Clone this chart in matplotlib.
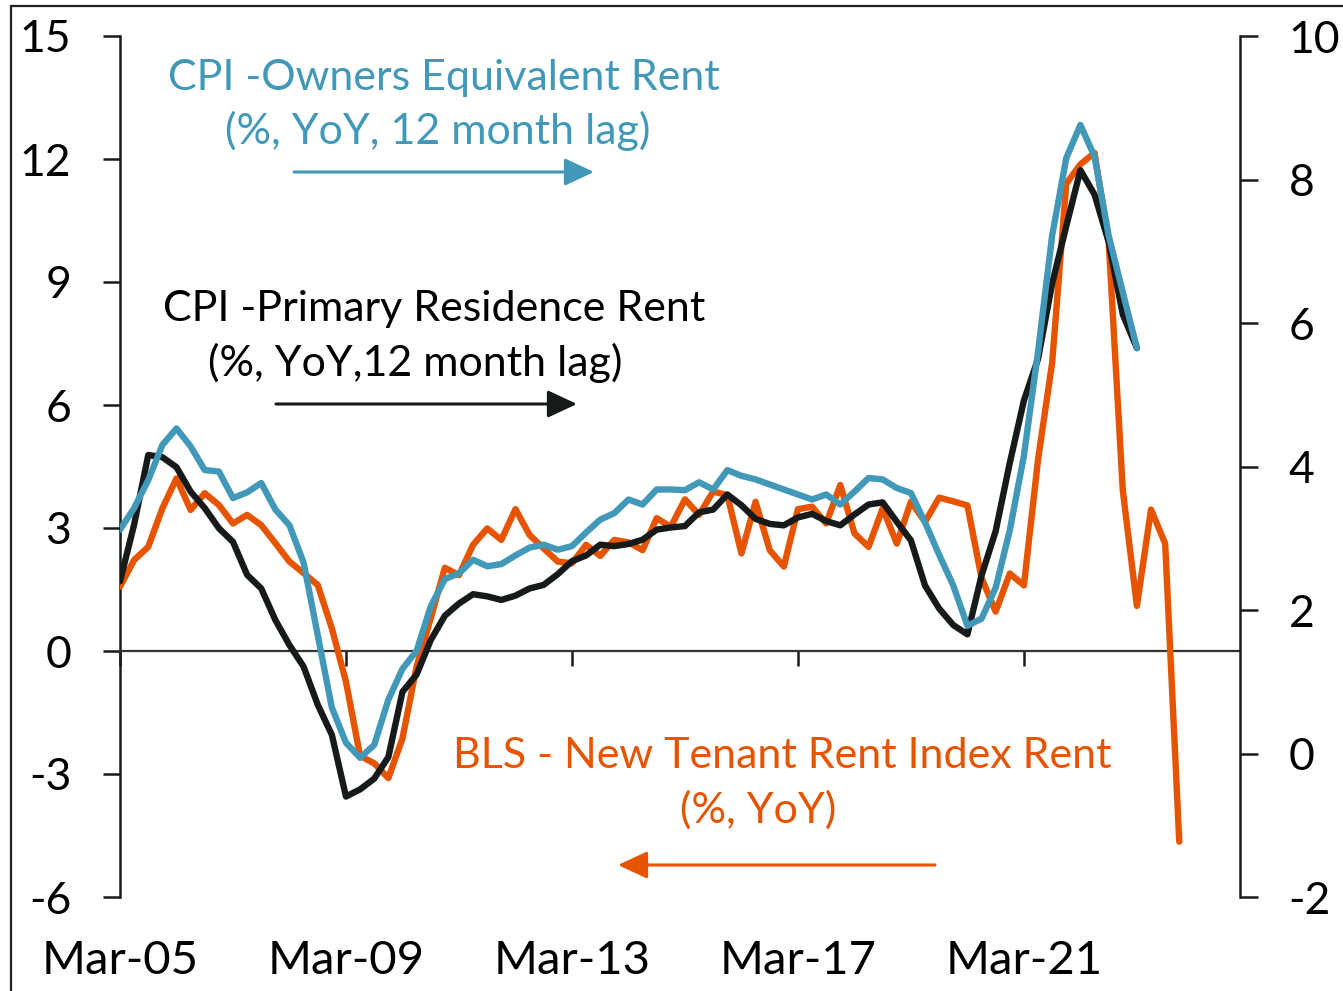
import numpy as np
import pandas as pd
import matplotlib
matplotlib.use("Agg")
import matplotlib.pyplot as plt
from matplotlib.patches import Rectangle

plt.rcParams['font.family'] = ['Lato', 'DejaVu Sans']

# ---------------- data ----------------
quarters = pd.period_range('2005Q1', '2023Q4', freq='Q').strftime('%b-%y').tolist()

# BLS New Tenant Rent Index (% YoY) - left axis
new_tenant = [1.57, 2.22, 2.54, 3.48, 4.21, 3.44, 3.85, 3.56, 3.11, 3.32,
              3.07, 2.63, 2.18, 1.90, 1.61, 0.55, -0.75, -2.56, -2.74, -3.10,
              -2.13, -0.38, 0.80, 2.03, 1.85, 2.59, 2.99, 2.71, 3.46, 2.83,
              2.50, 2.18, 2.14, 2.59, 2.32, 2.71, 2.65, 2.46, 3.24, 3.03,
              3.70, 3.32, 3.89, 3.80, 2.38, 3.64, 2.46, 2.06, 3.46, 3.52,
              3.11, 4.05, 2.87, 2.54, 3.48, 2.62, 3.64, 3.15, 3.74, 3.65,
              3.55, 1.78, 0.96, 1.89, 1.60, 4.67, 7.03, 11.40, 11.87, 12.15,
              10.00, 3.92, 1.10, 3.45, 2.62, -4.65]

# CPI Owners' Equivalent Rent (% YoY, 12m lag) - right axis
oer = [3.12, 3.42, 3.81, 4.30, 4.53, 4.28, 3.95, 3.93, 3.56, 3.64,
       3.77, 3.40, 3.18, 2.66, 1.65, 0.64, 0.15, -0.06, 0.12, 0.75,
       1.18, 1.43, 2.05, 2.43, 2.51, 2.70, 2.61, 2.64, 2.76, 2.87,
       2.91, 2.84, 2.89, 3.08, 3.26, 3.35, 3.54, 3.47, 3.68, 3.68,
       3.67, 3.78, 3.68, 3.95, 3.87, 3.82, 3.75, 3.68, 3.61, 3.54,
       3.61, 3.47, 3.65, 3.84, 3.82, 3.70, 3.63, 3.22, 2.77, 2.34,
       1.78, 1.88, 2.31, 3.11, 4.15, 5.60, 7.22, 8.30, 8.76, 8.32,
       7.22, 6.43, 5.65]

# CPI Primary Residence Rent (% YoY, 12m lag) - right axis
rent = [2.40, 3.19, 4.16, 4.13, 3.99, 3.65, 3.42, 3.14, 2.95, 2.49,
        2.30, 1.86, 1.51, 1.21, 0.68, 0.26, -0.60, -0.50, -0.35, -0.05,
        0.86, 1.10, 1.58, 1.92, 2.09, 2.22, 2.19, 2.14, 2.20, 2.30,
        2.35, 2.50, 2.68, 2.76, 2.91, 2.89, 2.92, 2.98, 3.12, 3.15,
        3.17, 3.36, 3.40, 3.61, 3.46, 3.27, 3.20, 3.18, 3.29, 3.34,
        3.24, 3.18, 3.33, 3.47, 3.50, 3.23, 2.97, 2.34, 2.02, 1.79,
        1.66, 2.48, 3.10, 4.05, 4.92, 5.50, 6.55, 7.35, 8.13, 7.79,
        7.13, 6.12, 5.65]

xtick_labels = ['Mar-05', 'Mar-09', 'Mar-13', 'Mar-17', 'Mar-21']
left_ticks = [15, 12, 9, 6, 3, 0, -3, -6]
right_ticks = [10, 8, 6, 4, 2, 0, -2]

# ---------------- style ----------------
ORANGE = '#E65400'
BLUE = '#4198B8'
BLACK = '#161A1A'
AXC = '#1A1A1A'
LW = 4.6

W, H = 1343, 991
fig = plt.figure(figsize=(W / 100, H / 100), dpi=100)


def fx(px):
    return px / W


def fy(py):
    return 1 - py / H


ax = fig.add_axes([fx(120), fy(897), fx(1240) - fx(120), fy(36) - fy(897)])
ax2 = ax.twinx()

x_all = np.arange(len(quarters))
ax.plot(x_all[:len(new_tenant)], new_tenant, color=ORANGE, lw=LW,
        solid_capstyle='round', zorder=3)
ax2.plot(x_all[:len(rent)], rent, color=BLACK, lw=LW,
         solid_capstyle='round', zorder=3)
ax2.plot(x_all[:len(oer)], oer, color=BLUE, lw=LW,
         solid_capstyle='round', zorder=4)

ax.set_xlim(0, 79.3)
ax.set_ylim(-6, 15)
ax2.set_ylim(-2, 10)

# x axis: zero line with downward ticks
tick_pos = [quarters.index(l) for l in xtick_labels]
ax.spines['bottom'].set_position(('data', 0))
ax.spines['bottom'].set_color('#333333')
ax.spines['bottom'].set_linewidth(1.6)
ax.set_xticks(tick_pos)
ax.set_xticklabels([])
ax.tick_params(axis='x', direction='out', length=11, width=1.8, color=AXC)

sec = ax.secondary_xaxis('bottom')
sec.set_xticks(tick_pos)
sec.set_xticklabels(xtick_labels)
sec.spines['bottom'].set_visible(False)
sec.tick_params(axis='x', length=0, pad=31, labelsize=34, labelcolor='black')

# y axes
ax.set_yticks(left_ticks)
ax.set_yticklabels([str(v) for v in left_ticks])
ax.tick_params(axis='y', direction='out', length=12, width=1.8, color=AXC,
               pad=23, labelsize=32)
ax.spines['left'].set_linewidth(1.8)
ax.spines['left'].set_color(AXC)
ax.spines['top'].set_visible(False)
ax.spines['right'].set_visible(False)

ax2.set_yticks(right_ticks)
ax2.set_yticklabels([str(v) for v in right_ticks])
ax2.tick_params(axis='y', direction='out', length=13, width=1.8, color=AXC,
                pad=22, labelsize=32)
ax2.spines['right'].set_linewidth(1.8)
ax2.spines['right'].set_color(AXC)
for s in ['top', 'left', 'bottom']:
    ax2.spines[s].set_visible(False)

# ---------------- annotations ----------------
FS = 31
fig.text(fx(444), fy(90), 'CPI -Owners Equivalent Rent', color=BLUE,
         fontsize=FS, ha='center', va='baseline')
fig.text(fx(438), fy(144), '(%, YoY, 12 month lag)', color=BLUE,
         fontsize=FS, ha='center', va='baseline')
fig.text(fx(434), fy(321), 'CPI -Primary Residence Rent', color='black',
         fontsize=FS, ha='center', va='baseline')
fig.text(fx(415), fy(376), '(%, YoY,12 month lag)', color='black',
         fontsize=FS, ha='center', va='baseline')
fig.text(fx(782), fy(768), 'BLS - New Tenant Rent Index Rent', color=ORANGE,
         fontsize=FS, ha='center', va='baseline')
fig.text(fx(758), fy(823), '(%, YoY)', color=ORANGE,
         fontsize=FS, ha='center', va='baseline')


def arrow(x0, x1, y, color):
    fig.add_artist(matplotlib.patches.FancyArrowPatch(
        (fx(x0), fy(y)), (fx(x1), fy(y)), transform=fig.transFigure,
        arrowstyle='-|>,head_length=0.75,head_width=0.35', mutation_scale=24,
        color=color, lw=2.2, shrinkA=0, shrinkB=0))


arrow(294, 594, 172, BLUE)
arrow(276, 577, 404, BLACK)
arrow(935, 618, 865, ORANGE)

# outer frame (partially cropped in the original)
fig.add_artist(Rectangle((fx(11), fy(1200)), fx(1600), fy(6) - fy(1200),
                         transform=fig.transFigure, fill=False,
                         edgecolor='#222222', lw=1.6))

fig.savefig('out.png', dpi=100)
